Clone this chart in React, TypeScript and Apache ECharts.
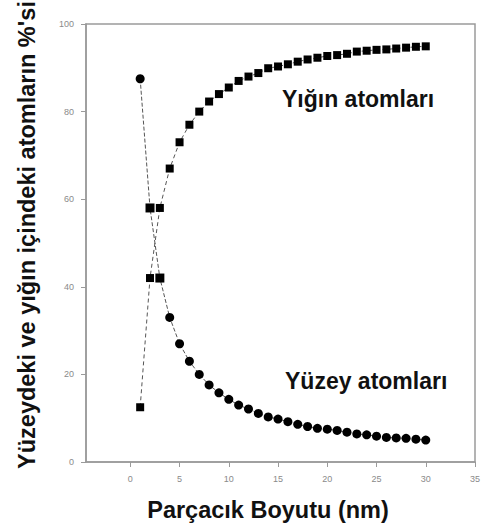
import React, { useEffect, useRef } from "react";
import * as echarts from "echarts";

const sizes = [1,2,3,4,5,6,7,8,9,10,11,12,13,14,15,16,17,18,19,20,21,22,23,24,25,26,27,28,29,30];
const bulkAtoms = [12.5,42,58,67,73,77,80,82.3,84,85.5,87,88,88.8,89.9,90.3,90.8,91.4,91.9,92.3,92.7,92.9,93.2,93.7,93.9,94.1,94.2,94.4,94.6,94.8,94.9];
const surfaceAtoms = [87.5,58,42,33,27,23,20,17.6,15.8,14.3,13,12.1,11.1,10.3,9.8,9.2,8.6,8.1,7.7,7.5,7.2,6.8,6.4,6.2,5.9,5.6,5.5,5.4,5.2,5.0];
const xTicks = [0,5,10,15,20,25,30,35];

const FONT = "'Liberation Sans', Arial, sans-serif";

export default function App() {
  const ref = useRef<HTMLDivElement>(null);
  useEffect(() => {
    if (!ref.current) return;
    const chart = echarts.init(ref.current, null, { renderer: "svg" });
    const axisColor = "#9a9a9a";
    chart.setOption({
      animation: false,
      backgroundColor: "#fff",
      grid: { left: 86, right: 14, top: 24, bottom: 69, show: true, borderColor: axisColor, borderWidth: 1.5, backgroundColor: "transparent" },
      xAxis: {
        type: "value", min: -4.5, max: 35,
        axisLine: { show: true, onZero: false, lineStyle: { color: axisColor, width: 1.5 } },
        axisTick: { show: true, customValues: xTicks, length: 5, lineStyle: { color: axisColor } },
        axisLabel: { customValues: xTicks, color: "#8a8a8a", fontSize: 9, fontFamily: FONT, margin: 12 },
        splitLine: { show: false },
      },
      yAxis: {
        type: "value", min: 0, max: 100, interval: 20,
        axisLine: { show: true, onZero: false, lineStyle: { color: axisColor, width: 1.5 } },
        axisTick: { show: true, length: 5, lineStyle: { color: axisColor } },
        axisLabel: { color: "#8a8a8a", fontSize: 9, fontFamily: FONT, margin: 12 },
        splitLine: { show: false },
      },
      series: [
        {
          type: "line", name: "Yığın atomları",
          data: sizes.map((s, i) => [s, bulkAtoms[i]]),
          symbol: "rect", symbolSize: 8,
          itemStyle: { color: "#000" },
          lineStyle: { color: "#555", width: 1, type: [4, 3] },
        },
        {
          type: "line", name: "Yüzey atomları",
          data: sizes.map((s, i) => ({ value: [s, surfaceAtoms[i]], symbol: i === 1 || i === 2 ? "rect" : "circle" })),
          symbol: "circle", symbolSize: 9,
          itemStyle: { color: "#000" },
          lineStyle: { color: "#555", width: 1, type: [4, 2] },
        },
      ],
      graphic: [
        { type: "text", left: 282, top: 87, style: { text: "Yığın atomları", font: `bold 23px ${FONT}`, fill: "#111" } },
        { type: "text", left: 285, top: 369, style: { text: "Yüzey atomları", font: `bold 23px ${FONT}`, fill: "#111" } },
        { type: "text", x: 268, y: 510, style: { text: "Parçacık Boyutu (nm)", font: `bold 23.5px ${FONT}`, fill: "#111", align: "center", verticalAlign: "middle" } },
        { type: "text", x: 27, y: 235, rotation: Math.PI / 2, style: { text: "Yüzeydeki ve yığın içindeki atomların %'si", font: `bold 23.5px ${FONT}`, fill: "#111", align: "center", verticalAlign: "middle" } },
      ],
    });
    return () => chart.dispose();
  }, []);
  return <div ref={ref} style={{ width: 489, height: 531, position: "absolute", left: 0, top: 0 }} />;
}
